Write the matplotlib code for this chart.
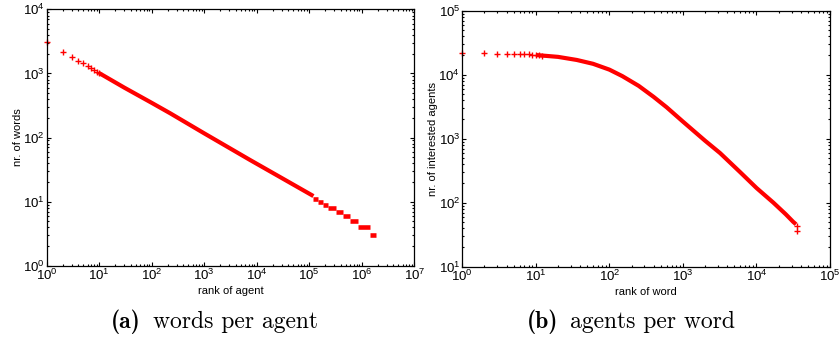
import matplotlib
matplotlib.use("Agg")
import matplotlib.pyplot as plt
from matplotlib.ticker import LogLocator, NullFormatter
import numpy as np

plt.rc("font", family="Liberation Sans", size=8)
plt.rc("mathtext", default="regular")

# (a) words per agent: first ranks are single points, the rest is a dense band
agent_head_rank = [1, 2, 3, 4, 5, 6, 7, 8, 9, 10]
agent_head_words = [3060, 2180, 1820, 1580, 1435, 1300, 1200, 1120, 1060, 1010]
agent_band_rank = [10, 30, 100, 224, 1000, 7450, 30000, 120000]
agent_band_words = [1010, 600, 347, 239, 116, 44.6, 23.3, 12.2]
# integer plateaus at the tail (words, first rank, last rank)
agent_tail_words = [11, 10, 9, 8, 7, 6, 5, 4, 3]
agent_tail_start = [1.2e5, 1.45e5, 1.8e5, 2.3e5, 3.2e5, 4.4e5, 5.9e5, 8.5e5, 1.41e6]
agent_tail_end = [1.45e5, 1.8e5, 2.3e5, 3.2e5, 4.4e5, 5.9e5, 8.5e5, 1.41e6, 1.87e6]

# (b) agents per word
word_head_rank = [1, 2, 3, 4, 5, 6, 7, 8, 9, 10, 11, 12]
word_head_agents = [21500, 21500, 21400, 21300, 21100, 21000, 20900, 20700,
                    20500, 20300, 20100, 19900]
word_band_rank = [10, 20, 36, 60, 100, 150, 250, 400, 600, 1000, 2000, 3200,
                  6000, 10000, 17000, 25000, 31700, 34500]
word_band_agents = [20300, 19000, 17000, 14800, 12000, 9500, 6700, 4500, 3100,
                    1850, 930, 596, 300, 170, 100, 66, 50, 46]
word_last_rank = [35300, 36000]
word_last_agents = [43, 36]

RED = "#ff0000"
BAND_LW = 3.0


def style_axes(ax, xlim, ylim):
    ax.set_xscale("log")
    ax.set_yscale("log")
    ax.set_xlim(*xlim)
    ax.set_ylim(*ylim)
    for axis in (ax.xaxis, ax.yaxis):
        axis.set_major_locator(LogLocator(base=10, numticks=20))
        axis.set_minor_locator(LogLocator(base=10, subs=np.arange(2, 10), numticks=20))
        axis.set_minor_formatter(NullFormatter())
    ax.tick_params(which="both", direction="in", top=True, right=True,
                   width=0.8, labelsize=9.5, pad=1.5, colors="black")
    ax.tick_params(which="major", length=3.2)
    ax.tick_params(which="minor", length=1.7)
    for sp in ax.spines.values():
        sp.set_linewidth(0.9)


def caption(fig, x_label_end, x_text_start, tag, text):
    y = 1 - 322 / 341
    fig.text(x_label_end / 839, y, tag, ha="right", va="center",
             fontsize=17, family="cmb10")
    fig.text(x_text_start / 839, y, text, ha="left", va="center",
             fontsize=17, family="cmr10")


fig = plt.figure(figsize=(8.39, 3.41), dpi=100)

# --- (a)
ax1 = fig.add_axes([0.0557, 0.2208, 0.4381, 0.7519])
ax1.plot(agent_band_rank, agent_band_words, color=RED, lw=BAND_LW,
         solid_capstyle="butt")
ax1.hlines(agent_tail_words, agent_tail_start, agent_tail_end, color=RED,
           lw=BAND_LW + 0.3)
ax1.plot(agent_head_rank, agent_head_words, "+", color=RED, ms=5, mew=1.0,
         clip_on=False)
style_axes(ax1, (1, 1e7), (1, 1e4))
ax1.set_xlabel("rank of agent", fontsize=8, labelpad=2)
ax1.set_ylabel("nr. of words", fontsize=8, labelpad=0)

# --- (b)
ax2 = fig.add_axes([0.5510, 0.2179, 0.4383, 0.7507])
ax2.plot(word_band_rank, word_band_agents, color=RED, lw=BAND_LW,
         solid_capstyle="butt")
ax2.plot(word_head_rank, word_head_agents, "+", color=RED, ms=5, mew=1.0,
         clip_on=False)
ax2.plot(word_last_rank, word_last_agents, "+", color=RED, ms=5, mew=1.0)
style_axes(ax2, (1, 1e5), (10, 1e5))
ax2.set_xlabel("rank of word", fontsize=8, labelpad=2)
ax2.set_ylabel("nr. of interested agents", fontsize=8, labelpad=0)

# sub-figure captions
caption(fig, 141, 153, "(a)", "words per agent")
caption(fig, 558, 570, "(b)", "agents per word")

fig.savefig("out.png", dpi=100)
